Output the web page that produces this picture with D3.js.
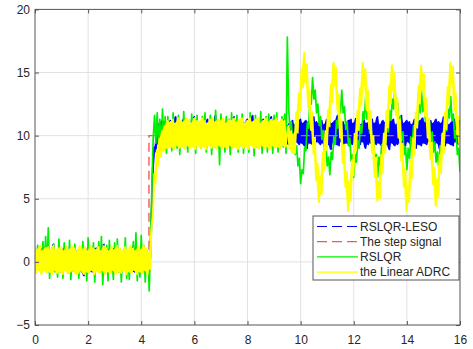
<!DOCTYPE html>
<html>
<head>
<meta charset="utf-8">
<script src="https://cdn.jsdelivr.net/npm/d3@7"></script>
<style>
  html, body { margin: 0; padding: 0; background: #fff; }
  svg { display: block; font-family: "Liberation Sans", Arial, Helvetica, sans-serif; }
</style>
</head>
<body>
<svg id="chart" width="473" height="349"></svg>
<script>
// ---- data -------------------------------------------------------------
// Sampled responses, one value every sampleStep seconds from t = 0 to t = 16.
const sampleStep = 0.05;

const xTicks = [0, 2, 4, 6, 8, 10, 12, 14, 16];
const yTicks = [-5, 0, 5, 10, 15, 20];

const seriesNames = ["RSLQR-LESO", "The step signal", "RSLQR", "the Linear ADRC"];

// reference step input
const stepTime  = [0, 4.29, 4.29, 16];
const stepValue = [0, 0, 10, 10];

// RSLQR-LESO output
const lesoValues = [
  0.9,-0.7,1.0,-0.6,0.8,-0.8,1.1,-0.5,0.9,-0.7,
  1.0,-0.6,0.8,-0.8,1.4,-0.7,0.9,-0.6,1.0,-0.8,
  0.8,-0.7,1.1,-0.5,0.9,-0.8,1.0,-0.6,0.8,-0.7,
  1.1,-0.8,0.9,-0.6,1.0,-0.7,0.8,-1.1,1.1,-0.6,
  0.9,-0.7,1.0,-0.8,0.8,-0.6,1.1,-0.7,0.9,-0.8,
  1.0,-0.5,1.4,-0.7,0.9,-0.6,1.0,-0.8,0.8,-0.7,
  1.1,-0.6,0.9,-0.8,1.0,-0.7,0.8,-0.6,1.1,-0.8,
  0.9,-0.7,1.0,-0.6,1.2,-0.8,0.9,-0.7,1.0,-0.6,
  0.8,-0.8,1.1,-0.7,0.9,-0.6,-0.9,
  0.4,3.6,7.4,9.1,8.7,10.6,9.3,11.0,9.2,11.2,9.4,11.1,9.3,
  11.0,9.3,11.2,9.5,10.9,9.2,11.5,9.4,11.0,9.3,
  11.1,9.5,11.3,9.2,10.9,9.4,11.2,9.3,11.0,9.5,
  11.5,9.2,11.1,9.4,10.9,9.3,11.2,9.5,11.0,9.2,
  11.3,9.4,11.1,9.3,10.9,9.5,11.6,9.2,11.0,9.4,
  11.2,9.3,11.1,9.5,10.9,9.2,11.3,9.4,11.0,9.3,
  11.5,9.5,11.1,9.2,10.9,9.4,11.2,9.3,11.0,9.5,
  11.3,9.2,11.1,9.4,11.6,9.3,10.9,9.5,11.2,9.2,
  11.0,9.4,11.3,9.3,11.1,9.5,10.9,9.2,11.5,9.4,
  11.0,9.3,11.2,9.5,10.9,9.2,11.1,9.4,11.3,9.3,10.8,
  9.3,11.0,9.4,11.2,9.2,10.9,9.5,11.1,9.3,11.3,
  9.4,11.0,9.2,11.2,9.0,11.1,9.4,10.9,9.3,11.5,
  9.2,11.1,9.5,11.0,9.3,11.2,9.4,10.9,9.2,11.3,
  9.3,11.1,8.9,11.0,9.4,11.2,9.3,11.6,9.2,11.0,
  9.5,11.1,9.3,10.9,9.4,11.2,9.2,11.3,9.3,11.0,
  9.4,11.4,9.2,11.1,9.3,10.9,9.5,11.2,9.0,11.0,
  9.3,11.1,9.4,11.3,9.2,11.0,9.3,11.5,9.4,10.9,
  9.2,11.2,9.5,11.1,9.3,11.0,8.9,11.2,9.4,11.3,
  9.2,10.9,9.3,11.1,9.4,11.6,9.3,11.0,9.2,11.2,
  9.5,11.1,9.3,10.9,9.4,11.3,9.0,11.0,9.3,11.2,
  9.2,11.4,9.4,11.1,9.3,10.9,9.5,11.2,9.2,11.0,
  9.3,11.3,9.4,11.1,8.9,11.0,9.3,11.5,9.2,11.2,
  9.4,10.9,9.3,11.1,9.2,11.3,9.5,11.0,9.3,11.2
];

// RSLQR output
const rslqrValues = [
  0.8,-0.6,1.3,-0.5,0.7,-0.8,1.6,-0.4,2.0,-0.7,2.7,-1.3,0.6,-0.5,1.4,-0.8,0.9,-1.2,1.8,-0.6,
  0.7,-1.3,1.5,-0.5,0.8,-0.9,1.7,-1.4,0.6,-0.7,1.4,-0.4,0.9,-1.3,0.5,-0.8,1.6,-0.6,0.8,-1.5,
  1.9,-0.7,0.6,-0.5,1.5,-1.6,0.8,-0.6,1.6,-0.8,2.0,-1.8,0.7,-0.5,1.3,-1.5,1.7,-0.7,0.6,-1.4,
  1.5,-0.6,1.8,-0.8,0.7,-1.6,0.9,-0.5,1.9,-1.3,0.8,-1.4,0.6,-0.7,1.6,-0.5,2.3,-1.5,0.8,-1.2,
  2.1,-0.6,1.3,-1.6,0.9,0.6,-2.3,
  1.5,6.0,9.8,11.6,9.4,11.8,9.2,11.3,8.8,12.1,8.9,11.5,8.6,
  11.5,9.2,10.9,8.8,11.8,9.4,10.8,9.0,11.6,8.5,10.9,9.3,11.9,9.1,10.7,8.7,11.0,9.4,11.7,9.2,
  10.8,8.6,11.6,9.3,10.9,9.0,11.5,9.2,11.8,8.7,10.8,9.4,11.6,8.5,10.9,9.1,12.0,9.3,10.8,7.7,
  11.7,9.2,10.9,8.7,11.5,9.4,10.8,8.5,11.8,9.1,10.9,9.3,11.6,8.7,10.8,9.2,11.7,8.6,10.9,9.4,
  11.0,8.7,11.8,9.3,10.9,8.4,11.6,9.1,10.8,9.2,11.9,8.6,10.9,9.3,11.5,8.7,11.7,9.2,10.8,8.6,
  11.6,9.3,11.8,8.7,10.9,9.2,11.5,9.1,11.7,8.6,17.8,
  12.1,10.5,11.1,9.5,10.2,8.5,9.2,7.6,8.2,6.2,7.3,
  7.0,9.1,8.8,11.0,10.6,12.8,12.5,14.6,
  12.9,13.6,11.8,12.5,10.8,11.5,9.7,10.4,8.7,9.4,7.6,8.3,6.9,
  8.7,8.1,9.9,9.3,11.2,10.6,12.4,11.8,13.6,
  11.8,12.3,10.5,11.1,9.2,9.8,8.0,8.5,6.7,
  8.5,7.9,9.6,9.0,10.8,10.2,11.9,11.3,13.1,
  11.3,11.9,10.2,10.8,9.0,9.6,7.9,8.5,6.7,
  8.3,7.6,9.3,8.5,10.2,9.4,11.1,10.3,12.0,11.2,12.9,12.1,13.8,
  12.0,12.6,10.8,11.5,9.6,10.3,8.5,9.1,7.3,
  9.0,8.2,9.9,9.1,10.8,10.0,11.7,10.9,12.6,11.8,13.5,
  11.9,12.7,11.1,11.9,10.3,11.1,9.5,10.3,8.7,9.5,7.9,8.7,7.5,
  9.2,8.5,10.2,9.5,11.1,10.4,12.1,11.4,13.1,
  11.2,11.7,9.8,10.4,8.5,9.0,7.1
];

// Linear ADRC output
const adrcValues = [
  1.2,-0.9,1.0,-0.7,1.3,-1.0,0.9,-0.7,1.1,-0.9,1.2,-0.8,1.0,-1.0,1.3,-0.7,1.0,-0.9,1.1,-0.8,
  1.2,-1.0,0.9,-0.7,1.3,-0.9,1.0,-0.8,1.2,-0.7,1.1,-1.0,0.9,-0.9,1.3,-0.7,1.0,-1.0,1.2,-0.8,
  0.9,-0.9,1.3,-0.7,1.1,-1.0,1.0,-0.8,1.2,-0.9,0.9,-0.7,1.3,-1.0,1.1,-0.8,0.9,-0.9,1.2,-0.7,
  1.0,-1.0,1.3,-0.8,1.1,-0.9,0.9,-0.7,1.2,-1.0,1.0,-0.8,1.3,-0.9,1.1,-0.7,0.9,-1.0,1.2,-0.8,
  1.0,-0.9,1.3,-0.7,1.1,-1.0,0.8,
  -0.6,2.8,3.6,7.0,6.2,8.9,7.6,9.8,8.3,10.4,8.7,10.8,9.0,
  11.2,9.0,11.1,9.1,11.3,8.9,11.0,9.2,11.4,9.0,11.2,9.1,11.1,8.9,11.4,9.2,11.3,9.0,11.0,9.1,
  11.4,8.9,11.2,9.2,11.1,9.0,11.4,9.1,11.2,8.9,11.0,9.2,11.3,9.0,11.4,9.1,11.1,8.9,11.3,9.2,
  11.2,9.0,11.4,9.1,11.0,8.9,11.3,9.2,11.2,9.0,11.4,9.1,11.1,8.9,11.3,9.2,11.4,9.0,11.0,9.1,
  11.2,8.9,11.4,9.2,11.1,9.0,11.3,9.1,11.4,8.9,11.0,9.2,11.2,9.0,11.4,9.1,11.1,8.9,11.3,9.2,
  11.2,9.0,11.4,9.1,11.1,8.9,11.3,9.2,11.2,9.1,10.1,
  10.8,8.9,10.4,8.6,10.1,8.6,11.9,10.2,13.4,12.0,
  15.3,13.8,16.6,14.2,15.7,12.2,13.6,10.4,11.9,8.5,
  9.9,6.4,7.8,4.7,6.8,5.3,8.7,7.2,10.4,8.8,
  12.1,10.7,14.1,12.6,15.8,13.9,15.4,12.0,13.3,9.8,
  11.2,7.8,9.3,5.9,7.2,4.0,6.4,4.8,8.1,6.8,
  10.2,8.8,12.0,10.4,13.8,12.4,15.8,13.9,15.3,12.0,
  13.6,10.5,12.0,8.6,10.0,6.7,8.3,4.8,6.4,5.0,
  8.5,7.0,10.2,8.6,12.0,10.6,14.0,12.5,15.6,13.5,
  15.0,11.6,13.0,9.8,11.3,8.0,9.4,5.9,7.4,4.0,
  6.0,4.7,8.1,6.6,9.9,8.4,11.9,10.6,14.0,12.5,
  15.6,13.5,14.9,11.5,13.0,9.8,11.4,8.1,9.5,6.1,
  7.5,4.4,6.6,5.1,8.5,7.0,10.2,8.6,11.9,10.5,
  13.9,12.4,15.8,14.1,15.5,12.0,13.4,10.1,11.5,9.1
];

// ---- drawing ----------------------------------------------------------
const svg = d3.select("#chart");
const W = 473, H = 349;
const plot = { left: 35, right: 460, top: 9.4, bottom: 325 };

svg.append("rect").attr("width", W).attr("height", H).attr("fill", "#fff");

const x = d3.scaleLinear().domain([0, 16]).range([plot.left, plot.right]);
const y = d3.scaleLinear().domain([-5, 20]).range([plot.bottom, plot.top]);

const colors = {
  leso: "#0000ff",
  step: "#f05a5a",
  rslqr: "#00f000",
  adrc: "#ffff00"
};

// grid
const grid = svg.append("g").attr("stroke", "#e2e2e2").attr("stroke-width", 1);
grid.selectAll("line.gx").data(xTicks.slice(1, -1)).join("line")
  .attr("x1", d => x(d)).attr("x2", d => x(d))
  .attr("y1", plot.top).attr("y2", plot.bottom);
grid.selectAll("line.gy").data(yTicks.slice(1, -1)).join("line")
  .attr("y1", d => y(d)).attr("y2", d => y(d))
  .attr("x1", plot.left).attr("x2", plot.right);

// clipping to the axes box
svg.append("defs").append("clipPath").attr("id", "plotClip")
  .append("rect")
  .attr("x", plot.left).attr("y", plot.top)
  .attr("width", plot.right - plot.left).attr("height", plot.bottom - plot.top);

const layer = svg.append("g").attr("clip-path", "url(#plotClip)");

const sampled = vals => vals.map((v, i) => [i * sampleStep, v]);
const line = d3.line().x(d => x(d[0])).y(d => y(d[1]));

// Dense noisy traces: fill the range swept between consecutive samples
// (min/max of each pair), then draw the polyline itself on top.
function sweep(vals) {
  return vals.map((v, i) => {
    const next = i + 1 < vals.length ? vals[i + 1] : v;
    return [i * sampleStep, Math.min(v, next), Math.max(v, next)];
  });
}
const band = d3.area()
  .x(d => x(d[0]))
  .y0(d => y(d[1]))
  .y1(d => y(d[2]));

function drawSeries(vals, color, width, filled) {
  const g = layer.append("g");
  if (filled) {
    g.append("path")
      .datum(sweep(vals))
      .attr("d", band)
      .attr("fill", color)
      .attr("stroke", "none");
  }
  g.append("path")
    .datum(sampled(vals))
    .attr("d", line)
    .attr("fill", "none")
    .attr("stroke", color)
    .attr("stroke-width", width)
    .attr("stroke-linejoin", "round");
  return g;
}

drawSeries(lesoValues, colors.leso, 1.4, true);

layer.append("path")
  .datum(stepTime.map((t, i) => [t, stepValue[i]]))
  .attr("d", line)
  .attr("fill", "none")
  .attr("stroke", colors.step)
  .attr("stroke-width", 1.4)
  .attr("stroke-dasharray", "9,5");

drawSeries(rslqrValues, colors.rslqr, 1.7, false);
drawSeries(adrcValues, colors.adrc, 1.3, true);

// axes box with inward ticks
const axisColor = "#555";
function styleAxis(g) {
  g.select(".domain").remove();
  g.selectAll(".tick line").attr("stroke", axisColor);
  g.selectAll(".tick text").attr("fill", "#262626").attr("font-size", 12)
    .attr("font-family", '"Liberation Sans", Arial, sans-serif');
}

svg.append("g").attr("transform", `translate(0,${plot.bottom})`)
  .call(d3.axisBottom(x).tickValues(xTicks).tickSize(-4).tickPadding(10).tickFormat(d3.format("d")))
  .call(styleAxis);
svg.append("g").attr("transform", `translate(0,${plot.top})`)
  .call(d3.axisTop(x).tickValues(xTicks).tickSize(-4).tickFormat(""))
  .call(styleAxis);
svg.append("g").attr("transform", `translate(${plot.left},0)`)
  .call(d3.axisLeft(y).tickValues(yTicks).tickSize(-4).tickPadding(5).tickFormat(d3.format("d")))
  .call(styleAxis);
svg.append("g").attr("transform", `translate(${plot.right},0)`)
  .call(d3.axisRight(y).tickValues(yTicks).tickSize(-4).tickFormat(""))
  .call(styleAxis);

svg.append("rect")
  .attr("x", plot.left).attr("y", plot.top)
  .attr("width", plot.right - plot.left).attr("height", plot.bottom - plot.top)
  .attr("fill", "none").attr("stroke", axisColor).attr("stroke-width", 1);

// legend
const legendStyles = [
  { color: colors.leso, dash: "10,5" },
  { color: colors.step, dash: "10,5" },
  { color: colors.rslqr, dash: null },
  { color: colors.adrc, dash: null }
];
const legend = svg.append("g").attr("transform", "translate(313,216)");
legend.append("rect")
  .attr("width", 146).attr("height", 64)
  .attr("fill", "#fff").attr("stroke", axisColor).attr("stroke-width", 1);
const entries = legend.selectAll("g.entry").data(seriesNames).join("g")
  .attr("transform", (d, i) => `translate(0,${10.5 + i * 15.2})`);
entries.append("line")
  .attr("x1", 4).attr("x2", 45).attr("y1", 0).attr("y2", 0)
  .attr("stroke", (d, i) => legendStyles[i].color)
  .attr("stroke-width", 1.2)
  .attr("stroke-dasharray", (d, i) => legendStyles[i].dash);
entries.append("text")
  .attr("x", 47).attr("y", 0).attr("dy", "0.36em")
  .attr("font-size", 12).attr("fill", "#262626")
  .text(d => d);
</script>
</body>
</html>
